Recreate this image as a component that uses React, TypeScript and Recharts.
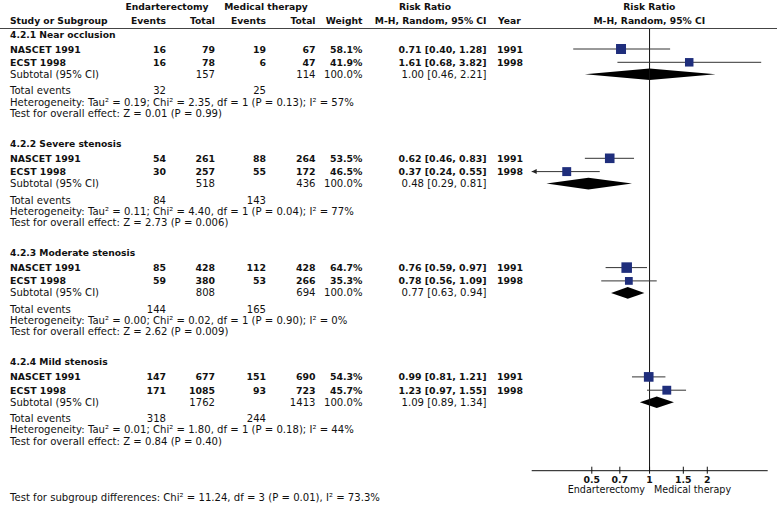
import {
  Area,
  ComposedChart,
  ReferenceDot,
  ReferenceLine,
  Scatter,
  XAxis,
  YAxis,
} from 'recharts'

const GROUPS = ['4.2.1 Near occlusion', '4.2.2 Severe stenosis', '4.2.3 Moderate stenosis', '4.2.4 Mild stenosis']
const STUDY_NAMES = ['NASCET 1991', 'ECST 1998']
const STUDY_YEARS = ['1991', '1998']

const END_EVENTS = [[16, 16], [54, 30], [85, 59], [147, 171]]
const END_TOTAL = [[79, 78], [261, 257], [428, 380], [677, 1085]]
const MED_EVENTS = [[19, 6], [88, 55], [112, 53], [151, 93]]
const MED_TOTAL = [[67, 47], [264, 172], [428, 266], [690, 723]]
const WEIGHTS = [[58.1, 41.9], [53.5, 46.5], [64.7, 35.3], [54.3, 45.7]]
const RR = [[0.71, 1.61], [0.62, 0.37], [0.76, 0.78], [0.99, 1.23]]
const RR_LOW = [[0.4, 0.68], [0.46, 0.24], [0.59, 0.56], [0.81, 0.97]]
const RR_HIGH = [[1.28, 3.82], [0.83, 0.55], [0.97, 1.09], [1.21, 1.55]]

const SUB_END_TOTAL = [157, 518, 808, 1762]
const SUB_MED_TOTAL = [114, 436, 694, 1413]
const SUB_RR = [1.0, 0.48, 0.77, 1.09]
const SUB_LOW = [0.46, 0.29, 0.63, 0.89]
const SUB_HIGH = [2.21, 0.81, 0.94, 1.34]
const END_TOTAL_EVENTS = [32, 84, 144, 318]
const MED_TOTAL_EVENTS = [25, 143, 165, 244]

const TAU2 = ['0.19', '0.11', '0.00', '0.01']
const CHI2 = ['2.35', '4.40', '0.02', '1.80']
const HET_DF = [1, 1, 1, 1]
const HET_P = ['0.13', '0.04', '0.90', '0.18']
const I2 = ['57', '77', '0', '44']
const Z_VALUES = ['0.01', '2.73', '2.62', '0.84']
const Z_P = ['0.99', '0.006', '0.009', '0.40']

const X_TICKS = [0.5, 0.7, 1, 1.5, 2]
const X_DOMAIN: [number, number] = [0.243, 4.13]

const W = 777
const H = 506
const PLOT_TOP = 28.5
const PLOT_BOTTOM = 470.7
const PLOT_LEFT = 531.7
const PLOT_RIGHT = 767.7
const GROUP_TOP = 34
const GROUP_STEP = 109.3
const ROW_OFFSET = { header: 0, study0: 15, study1: 28.3, subtotal: 40.3, events: 56.8, het: 68, test: 79.3 }
const DIAMOND_HALF = 5.8
const FONT = '"DejaVu Sans", Verdana, sans-serif'
const SQUARE = '#1f2e7c'

const rowY = (g: number, kind: keyof typeof ROW_OFFSET) => GROUP_TOP + g * GROUP_STEP + ROW_OFFSET[kind]
const fmt = (v: number) => v.toFixed(2)
const ciText = (e: number, lo: number, hi: number) => `${fmt(e)} [${fmt(lo)}, ${fmt(hi)}]`

const studies = GROUPS.flatMap((_, g) =>
  STUDY_NAMES.map((_, s) => ({
    x: RR[g][s],
    y: rowY(g, s === 0 ? 'study0' : 'study1') - PLOT_TOP,
    lo: RR_LOW[g][s],
    hi: RR_HIGH[g][s],
    weight: WEIGHTS[g][s],
  })),
)

const diamonds = GROUPS.map((_, g) => {
  const y = rowY(g, 'subtotal') - PLOT_TOP
  return [
    { x: SUB_LOW[g], band: [y, y] },
    { x: SUB_RR[g], band: [y - DIAMOND_HALF, y + DIAMOND_HALF] },
    { x: SUB_HIGH[g], band: [y, y] },
  ]
})

function Square(props: any) {
  const { cx, cy, payload } = props
  const side = 1.31 * Math.sqrt(payload.weight)
  return <rect x={cx - side / 2} y={cy - side / 2} width={side} height={side} fill={SQUARE} />
}

function Arrow(props: any) {
  const { cx, cy } = props
  return <polygon points={`${cx},${cy} ${cx + 5},${cy - 2.5} ${cx + 5},${cy + 2.5}`} fill="#222" />
}

function AxisTick(props: any) {
  const { x, y, payload } = props
  return (
    <g>
      <line x1={x} x2={x} y1={y - 4} y2={y + 3} stroke="#111" />
      <text x={x} y={y + 12} textAnchor="middle" fontSize={9.4} fontWeight="bold" fontFamily={FONT} fill="#111">
        {payload.value}
      </text>
    </g>
  )
}

function T({ x, y, children, anchor = 'start', bold = false, size }: any) {
  return (
    <text
      x={x}
      y={y}
      textAnchor={anchor}
      dominantBaseline="central"
      fontSize={size ?? (bold ? 9.4 : 10.1)}
      fontWeight={bold ? 'bold' : 'normal'}
      fontFamily={FONT}
      fill="#111"
    >
      {children}
    </text>
  )
}

function TableText() {
  return (
    <svg width={W} height={H} style={{ position: 'absolute', left: 0, top: 0, pointerEvents: 'none' }}>
      <T x={167} y={6.5} anchor="middle" bold size={9.2}>Endarterectomy</T>
      <T x={266} y={6.5} anchor="middle" bold size={9.2}>Medical therapy</T>
      <T x={425} y={6.5} anchor="middle" bold size={9.2}>Risk Ratio</T>
      <T x={649.3} y={6.5} anchor="middle" bold size={9.2}>Risk Ratio</T>
      <T x={10} y={20.7} bold size={9.2}>Study or Subgroup</T>
      <T x={166} y={20.7} anchor="end" bold size={9.2}>Events</T>
      <T x={215} y={20.7} anchor="end" bold size={9.2}>Total</T>
      <T x={266} y={20.7} anchor="end" bold size={9.2}>Events</T>
      <T x={315.5} y={20.7} anchor="end" bold size={9.2}>Total</T>
      <T x={362.5} y={20.7} anchor="end" bold size={9.2}>Weight</T>
      <T x={486.5} y={20.7} anchor="end" bold size={9.2}>M-H, Random, 95% CI</T>
      <T x={498} y={20.7} bold size={9.2}>Year</T>
      <T x={649.3} y={20.7} anchor="middle" bold size={9.2}>M-H, Random, 95% CI</T>
      <line x1={0} x2={W} y1={PLOT_TOP} y2={PLOT_TOP} stroke="#444" strokeWidth={1.1} />

      {GROUPS.map((name, g) => (
        <g key={name}>
          <T x={10} y={rowY(g, 'header')} bold size={9.2}>{name}</T>
          {STUDY_NAMES.map((study, s) => {
            const y = rowY(g, s === 0 ? 'study0' : 'study1')
            return (
              <g key={study}>
                <T x={10} y={y} bold>{study}</T>
                <T x={166} y={y} anchor="end" bold>{END_EVENTS[g][s]}</T>
                <T x={215} y={y} anchor="end" bold>{END_TOTAL[g][s]}</T>
                <T x={266} y={y} anchor="end" bold>{MED_EVENTS[g][s]}</T>
                <T x={315.5} y={y} anchor="end" bold>{MED_TOTAL[g][s]}</T>
                <T x={362.5} y={y} anchor="end" bold>{WEIGHTS[g][s].toFixed(1)}%</T>
                <T x={486.5} y={y} anchor="end" bold>{ciText(RR[g][s], RR_LOW[g][s], RR_HIGH[g][s])}</T>
                <T x={497} y={y} bold>{STUDY_YEARS[s]}</T>
              </g>
            )
          })}
          <T x={10} y={rowY(g, 'subtotal')}>Subtotal (95% CI)</T>
          <T x={215} y={rowY(g, 'subtotal')} anchor="end">{SUB_END_TOTAL[g]}</T>
          <T x={315.5} y={rowY(g, 'subtotal')} anchor="end">{SUB_MED_TOTAL[g]}</T>
          <T x={362.5} y={rowY(g, 'subtotal')} anchor="end">100.0%</T>
          <T x={486.5} y={rowY(g, 'subtotal')} anchor="end">{ciText(SUB_RR[g], SUB_LOW[g], SUB_HIGH[g])}</T>
          <T x={10} y={rowY(g, 'events')}>Total events</T>
          <T x={166} y={rowY(g, 'events')} anchor="end">{END_TOTAL_EVENTS[g]}</T>
          <T x={266} y={rowY(g, 'events')} anchor="end">{MED_TOTAL_EVENTS[g]}</T>
          <T x={10} y={rowY(g, 'het')}>
            {`Heterogeneity: Tau² = ${TAU2[g]}; Chi² = ${CHI2[g]}, df = ${HET_DF[g]} (P = ${HET_P[g]}); I² = ${I2[g]}%`}
          </T>
          <T x={10} y={rowY(g, 'test')}>{`Test for overall effect: Z = ${Z_VALUES[g]} (P = ${Z_P[g]})`}</T>
        </g>
      ))}

      <T x={645} y={489.5} anchor="end" size={9.6}>Endarterectomy</T>
      <T x={654} y={489.5} size={9.6}>Medical therapy</T>
      <T x={10} y={497.5}>Test for subgroup differences: Chi² = 11.24, df = 3 (P = 0.01), I² = 73.3%</T>
    </svg>
  )
}

export default function App() {
  return (
    <div style={{ position: 'absolute', left: 0, top: 0, width: W, height: H, background: '#fff' }}>
      <ComposedChart
        width={W}
        height={H}
        margin={{ top: PLOT_TOP, right: W - PLOT_RIGHT, bottom: H - PLOT_BOTTOM - 30, left: PLOT_LEFT }}
      >
        <XAxis
          type="number"
          dataKey="x"
          scale="log"
          domain={X_DOMAIN}
          allowDataOverflow
          ticks={X_TICKS}
          interval={0}
          height={30}
          tickSize={0}
          tickMargin={0}
          tickLine={false}
          axisLine={{ stroke: '#111' }}
          tick={<AxisTick />}
        />
        <YAxis type="number" dataKey="y" domain={[0, PLOT_BOTTOM - PLOT_TOP]} reversed hide allowDataOverflow />
        <ReferenceLine x={1} stroke="#111" ifOverflow="visible" />
        {studies.map((d, i) => (
          <ReferenceLine
            key={`ci-${i}`}
            segment={[
              { x: Math.max(d.lo, X_DOMAIN[0]), y: d.y },
              { x: Math.min(d.hi, X_DOMAIN[1]), y: d.y },
            ]}
            stroke="#333"
            ifOverflow="visible"
          />
        ))}
        {studies
          .filter((d) => d.lo < X_DOMAIN[0])
          .map((d, i) => (
            <ReferenceDot key={`arrow-${i}`} x={X_DOMAIN[0]} y={d.y} ifOverflow="visible" shape={<Arrow />} />
          ))}
        <Scatter data={studies} shape={<Square />} isAnimationActive={false} />
        {diamonds.map((d, i) => (
          <Area
            key={`diamond-${i}`}
            data={d}
            dataKey="band"
            type="linear"
            fill="#000"
            fillOpacity={1}
            stroke="none"
            dot={false}
            activeDot={false}
            isAnimationActive={false}
          />
        ))}
      </ComposedChart>
      <TableText />
    </div>
  )
}
